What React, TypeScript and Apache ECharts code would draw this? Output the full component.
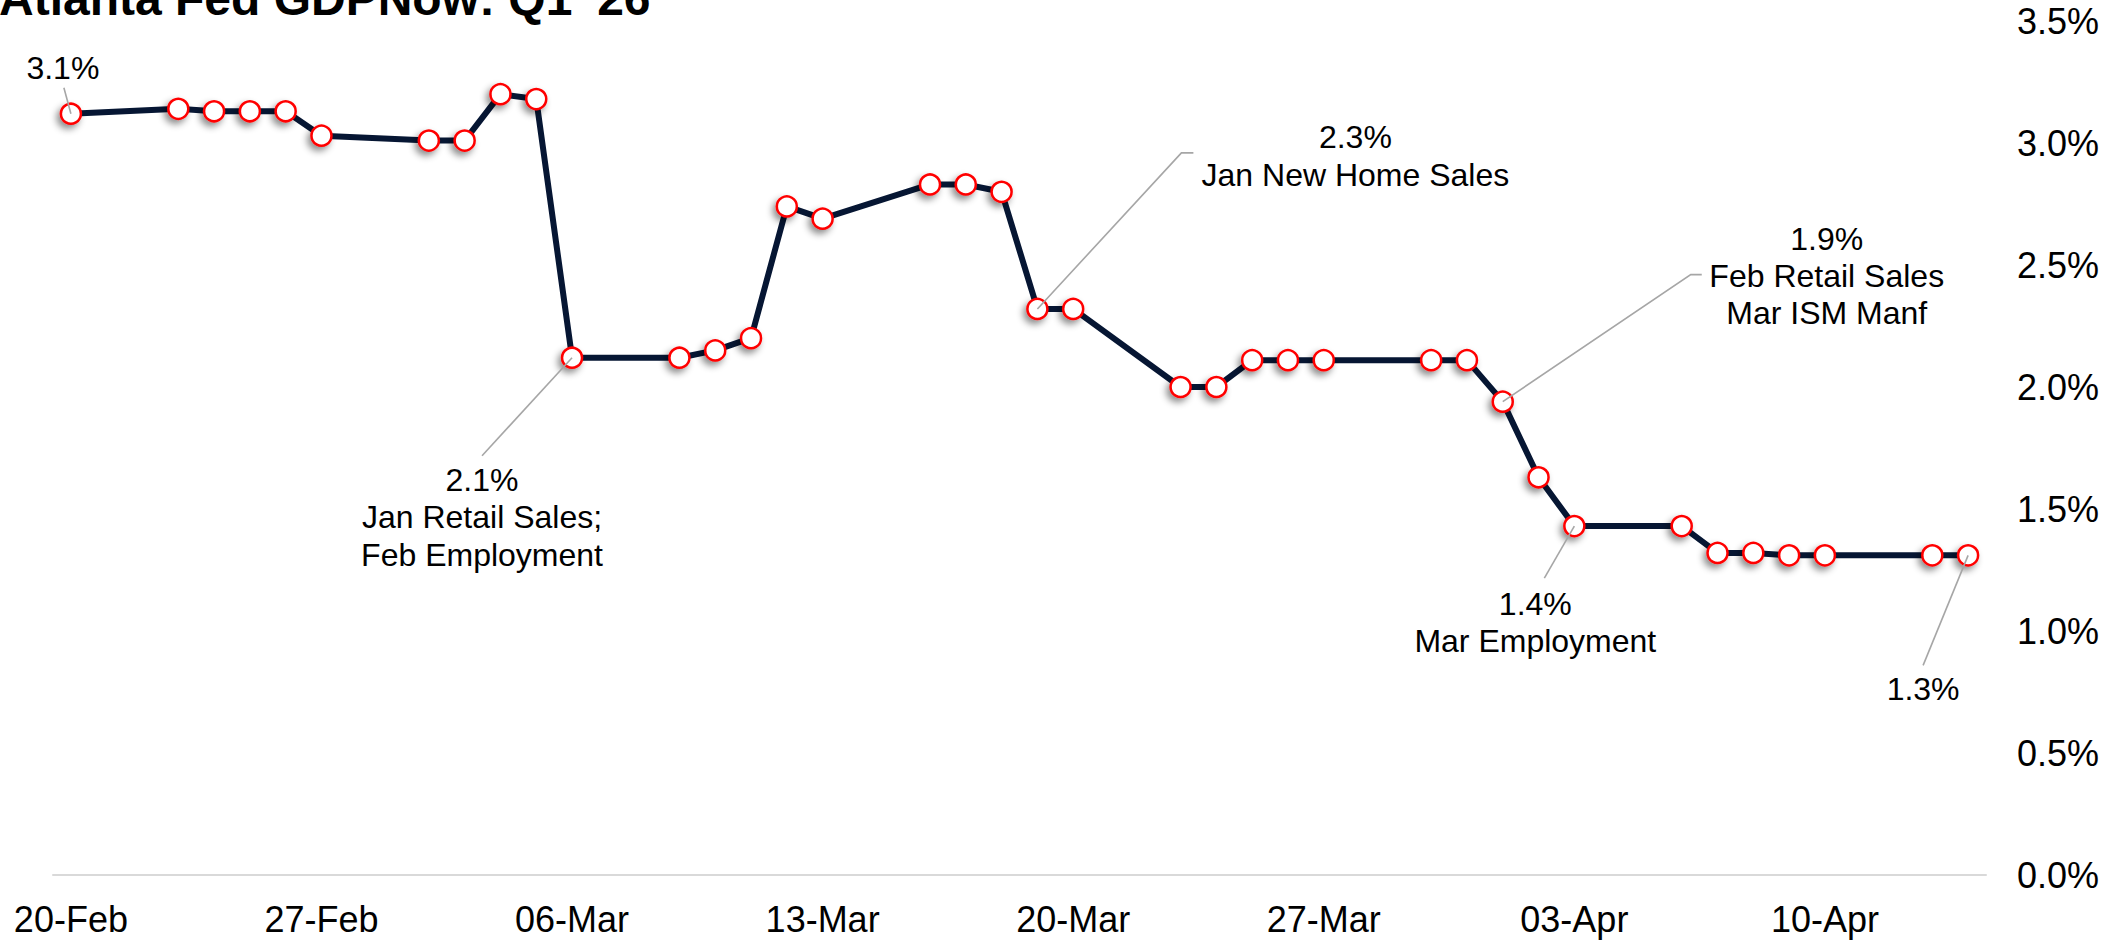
import React, { useEffect, useRef } from "react";
import * as echarts from "echarts";

// ---------- data ----------
const dates = [
  "2026-02-20",
  "2026-02-23", "2026-02-24", "2026-02-25", "2026-02-26", "2026-02-27",
  "2026-03-02", "2026-03-03", "2026-03-04", "2026-03-05", "2026-03-06",
  "2026-03-09", "2026-03-10", "2026-03-11", "2026-03-12", "2026-03-13",
  "2026-03-16", "2026-03-17", "2026-03-18", "2026-03-19", "2026-03-20",
  "2026-03-23", "2026-03-24", "2026-03-25", "2026-03-26", "2026-03-27",
  "2026-03-30", "2026-03-31", "2026-04-01", "2026-04-02", "2026-04-03",
  "2026-04-06", "2026-04-07", "2026-04-08", "2026-04-09", "2026-04-10",
  "2026-04-13", "2026-04-14",
];

const gdpNow = [
  3.12,
  3.14, 3.13, 3.13, 3.13, 3.03,
  3.01, 3.01, 3.2, 3.18, 2.12,
  2.12, 2.15, 2.2, 2.74, 2.69,
  2.83, 2.83, 2.8, 2.32, 2.32,
  2.0, 2.0, 2.11, 2.11, 2.11,
  2.11, 2.11, 1.94, 1.63, 1.43,
  1.43, 1.32, 1.32, 1.31, 1.31,
  1.31, 1.31,
];

const tickDates = [
  "2026-02-20", "2026-02-27", "2026-03-06", "2026-03-13",
  "2026-03-20", "2026-03-27", "2026-04-03", "2026-04-10",
];
const tickLabels = ["20-Feb", "27-Feb", "06-Mar", "13-Mar", "20-Mar", "27-Mar", "03-Apr", "10-Apr"];

const yMin = 0;
const yMax = 3.5;
const yStep = 0.5;

const title = "Atlanta Fed GDPNow: Q1 '26";

// annotation content (which release, what it says)
const annotationDates = ["2026-02-20", "2026-03-06", "2026-03-19", "2026-04-01", "2026-04-03", "2026-04-14"];
const annotationTexts = [
  ["3.1%"],
  ["2.1%", "Jan Retail Sales;", "Feb Employment"],
  ["2.3%", "Jan New Home Sales"],
  ["1.9%", "Feb Retail Sales", "Mar ISM Manf"],
  ["1.4%", "Mar Employment"],
  ["1.3%"],
];

// annotation placement (pixel offsets from the point) - layout only
const annotationLayout = [
  { tx: -8, ty: -46, lh: 38, leader: [[0, 0], [-7, -26]] },
  { tx: -90, ty: 122, lh: 37.5, leader: [[0, 0], [-90, 98]] },
  { tx: 318, ty: -172, lh: 38, leader: [[0, 0], [144, -156], [156, -156]] },
  { tx: 324, ty: -163, lh: 37, leader: [[0, 0], [188, -127], [199, -127]] },
  { tx: -39, ty: 78, lh: 37, leader: [[0, 0], [-30, 52]] },
  { tx: -45, ty: 134, lh: 38, leader: [[0, 0], [-45, 110]] },
];

const FONT = "'Liberation Sans', Arial, Helvetica, sans-serif";
const DAY = 86400000;
const t0 = Date.parse(dates[0]);
const dayIndex = (d: string) => Math.round((Date.parse(d) - t0) / DAY);

export default function App() {
  const ref = useRef<HTMLDivElement>(null);

  useEffect(() => {
    if (!ref.current) return;
    const chart = echarts.init(ref.current, undefined, { renderer: "svg" });
    const seriesData = dates.map((d, i) => [dayIndex(d), gdpNow[i]]);
    const tickIdx = tickDates.map(dayIndex);
    const lastDay = dayIndex(dates[dates.length - 1]);

    chart.setOption({
      animation: false,
      backgroundColor: "#ffffff",
      grid: { left: 53, right: 135, top: 21, bottom: 65, containLabel: false },
      xAxis: {
        type: "value",
        min: -0.5,
        max: lastDay + 0.5,
        axisLine: { show: true, lineStyle: { color: "#d9d9d9", width: 2 } },
        axisTick: { show: false },
        splitLine: { show: false },
        axisLabel: {
          customValues: tickIdx,
          formatter: (v: number) => {
            const k = tickIdx.indexOf(Math.round(v));
            return k >= 0 ? tickLabels[k] : "";
          },
          color: "#000000",
          fontFamily: FONT,
          fontSize: 36,
          margin: 26,
        },
      },
      yAxis: {
        type: "value",
        position: "right",
        min: yMin,
        max: yMax,
        interval: yStep,
        axisLine: { show: false },
        axisTick: { show: false },
        splitLine: { show: false },
        axisLabel: {
          formatter: (v: number) => v.toFixed(1) + "%",
          color: "#000000",
          fontFamily: FONT,
          fontSize: 36,
          margin: 31,
        },
      },
      series: [
        {
          type: "line",
          data: seriesData,
          symbol: "circle",
          symbolSize: 20,
          lineStyle: { color: "#061633", width: 6 },
          itemStyle: {
            color: "#ffffff",
            borderColor: "#ff0000",
            borderWidth: 2.5,
            shadowColor: "rgba(0,0,0,0.45)",
            shadowBlur: 7,
            shadowOffsetX: -3,
            shadowOffsetY: 4,
          },
          z: 3,
        },
      ],
    });

    const graphics: any[] = [
      {
        type: "text",
        x: -1,
        y: -2,
        z: 100,
        style: {
          text: title,
          font: `bold 48px ${FONT}`,
          fill: "#000000",
          align: "left",
          verticalAlign: "middle",
        },
      },
    ];

    annotationDates.forEach((d, i) => {
      const idx = dates.indexOf(d);
      const p = chart.convertToPixel({ seriesIndex: 0 }, [dayIndex(d), gdpNow[idx]]) as number[];
      const lay = annotationLayout[i];
      graphics.push({
        type: "polyline",
        z: 100,
        shape: { points: lay.leader.map(([dx, dy]) => [p[0] + dx, p[1] + dy]) },
        style: { stroke: "#a6a6a6", lineWidth: 1.6, fill: null },
      });
      annotationTexts[i].forEach((line, j) => {
        graphics.push({
          type: "text",
          z: 100,
          x: p[0] + lay.tx,
          y: p[1] + lay.ty + j * lay.lh,
          style: {
            text: line,
            font: `32px ${FONT}`,
            fill: "#000000",
            align: "center",
            verticalAlign: "middle",
          },
        });
      });
    });

    chart.setOption({ graphic: graphics });

    return () => chart.dispose();
  }, []);

  return (
    <div
      ref={ref}
      style={{ position: "absolute", left: 0, top: 0, width: 2121, height: 940, background: "#fff" }}
    />
  );
}
